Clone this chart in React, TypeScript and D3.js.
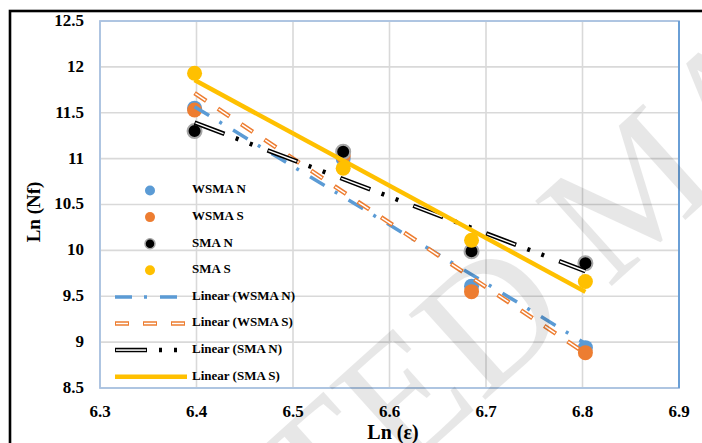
import React from 'react';
import * as d3 from 'd3';

// Ln(strain) values shared by all series
const xVals = [6.398, 6.552, 6.685, 6.803];
const wsmaN = [11.55, 11.0, 9.61, 8.94];
const wsmaS = [11.53, 11.03, 9.55, 8.885];
const smaN = [11.3, 11.075, 9.99, 9.86];
const smaS = [11.93, 10.895, 10.11, 9.66];

const seriesNames = ['WSMA N', 'WSMA S', 'SMA N', 'SMA S'];
// linear trendline coefficients (y = a + b x)
const trendSlopes = [-6.37, -7.0, -4.0, -5.7];
const trendIntercepts = [52.32, 56.5, 36.985, 48.325];

const xTicks = [6.3, 6.4, 6.5, 6.6, 6.7, 6.8, 6.9];
const yTicks = [8.5, 9, 9.5, 10, 10.5, 11, 11.5, 12, 12.5];

const colors = ['#5b9bd5', '#ed7d31', '#000000', '#ffc000'];
const serif = '"Liberation Serif", "Times New Roman", serif';

const W = 702, H = 443;
const left = 100, right = 679, top = 21, bottom = 388;

export default function App() {
    const x = d3.scaleLinear().domain([6.3, 6.9]).range([left, right]);
    const y = d3.scaleLinear().domain([8.5, 12.5]).range([bottom, top]);
    const series = [wsmaN, wsmaS, smaN, smaS];
    const [x0, x1] = d3.extent(xVals) as [number, number];
    const line = d3.line<[number, number]>().x(d => x(d[0])).y(d => y(d[1]));

    const trendPath = (i: number) =>
        line([x0, x1].map(v => [v, trendIntercepts[i] + trendSlopes[i] * v] as [number, number])) || '';

    // draws the styled trendline for series i along path d
    const trend = (i: number, d: string, key: string) => {
        if (i === 0) return <path key={key} d={d} fill="none" stroke={colors[0]} strokeWidth={3.5} strokeDasharray="17 12 3 13"/>;
        if (i === 1) return (<g key={key}>
            <path d={d} fill="none" stroke={colors[1]} strokeWidth={4.5} strokeDasharray="14 14"/>
            <path d={d} fill="none" stroke="#fff" strokeWidth={1.5} strokeDasharray="12 16" strokeDashoffset={-1}/>
        </g>);
        if (i === 2) return (<g key={key}>
            <path d={d} fill="none" stroke="#000" strokeWidth={4.5} strokeDasharray="32 12 3 12 3 16"/>
            <path d={d} fill="none" stroke="#fff" strokeWidth={1.5} strokeDasharray="30 48" strokeDashoffset={-1}/>
        </g>);
        return <path key={key} d={d} fill="none" stroke={colors[3]} strokeWidth={4.5}/>;
    };

    const legendY = (k: number) => 190.5 + k * 26.6;
    const em = 175;

    return (
        <svg width={W} height={H} style={{position: 'absolute', left: 0, top: 0}} fontFamily={serif}>
            <rect width={W} height={H} fill="#fff"/>
            <rect x={10} y={11} width={900} height={900} fill="none" stroke="#000" strokeWidth={2.6}/>

            {xTicks.map(t => <line key={'gx' + t} x1={x(t)} x2={x(t)} y1={top} y2={bottom} stroke="#d9d9d9" strokeWidth={1.6}/>)}
            {yTicks.map(t => <line key={'gy' + t} x1={left} x2={right} y1={y(t)} y2={y(t)} stroke="#d9d9d9" strokeWidth={1.6}/>)}
            <rect x={left} y={top} width={right - left} height={bottom - top} fill="none" stroke="#a9c2e2" strokeWidth={1.8}/>
            <line x1={right} x2={right} y1={top} y2={bottom} stroke="#6a9fd6" strokeWidth={2}/>

            {yTicks.map(t => <text key={'ty' + t} x={84} y={y(t) + 1} textAnchor="end" dominantBaseline="middle"
                                   fontSize={17} fontWeight="bold">{t}</text>)}
            {xTicks.map(t => <text key={'tx' + t} x={x(t)} y={417} textAnchor="middle" fontSize={17}
                                   fontWeight="bold">{t.toFixed(1)}</text>)}
            <text x={393} y={439} textAnchor="middle" fontSize={20} fontWeight="bold">Ln (ε)</text>
            <text transform="translate(40,212) rotate(-90)" textAnchor="middle" fontSize={19} fontWeight="bold">Ln (Nf)</text>

            {series.map((vals, i) => vals.map((v, j) =>
                <circle key={`p${i}-${j}`} cx={x(xVals[j])} cy={y(v)} r={i === 2 ? 7 : 7.5} fill={colors[i]}
                        stroke={i === 2 ? '#a6a6a6' : 'none'} strokeWidth={2}/>))}
            {series.map((_, i) => trend(i, trendPath(i), 't' + i))}

            {seriesNames.map((name, i) => (
                <g key={'lm' + i}>
                    <circle cx={150} cy={legendY(i)} r={5} fill={colors[i]} stroke={i === 2 ? '#a6a6a6' : 'none'} strokeWidth={1.5}/>
                    <text x={192} y={legendY(i)} dominantBaseline="middle" fontSize={13} fontWeight="bold">{name}</text>
                </g>))}
            {seriesNames.map((name, i) => (
                <g key={'ll' + i}>
                    {trend(i, `M115,${legendY(i + 4)}H187`, 'lt' + i)}
                    <text x={192} y={legendY(i + 4)} dominantBaseline="middle" fontSize={13} fontWeight="bold">{`Linear (${name})`}</text>
                </g>))}

            <g transform="translate(490,318) rotate(-42)" fontSize={em} fill="#000" opacity={0.09} style={{pointerEvents: 'none'}}>
                <text x={0.36 * em} y={0.33 * em} textAnchor="end">ACCEPTED</text>
                <text x={0.61 * em} y={0.33 * em}>MANUSCRIPT</text>
            </g>
        </svg>
    );
}
